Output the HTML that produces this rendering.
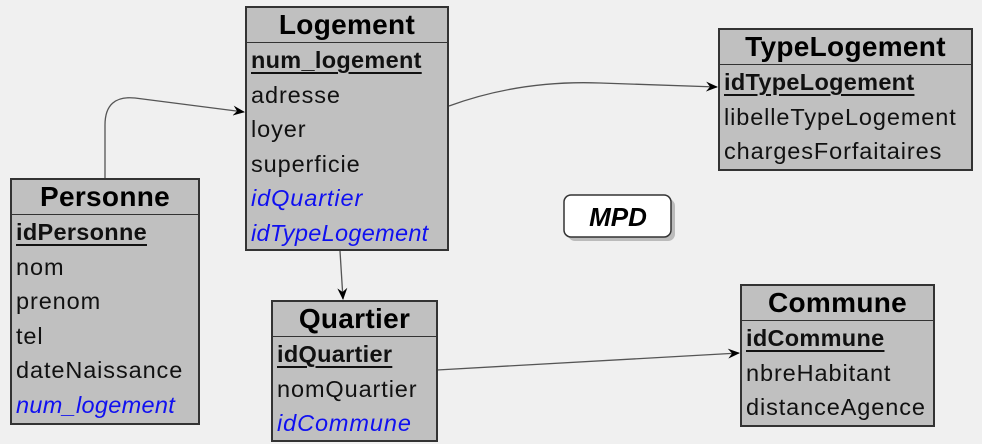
<!DOCTYPE html>
<html><head><style>
body{margin:0;width:982px;height:444px;background:#f0f0f0;position:relative;overflow:hidden;font-family:"Liberation Sans",sans-serif}
.t{position:absolute;background:#c0c0c0;border:2px solid #333;box-sizing:border-box}
.h{height:34px;border-bottom:1.5px solid #333;text-align:center;font-weight:bold;font-size:28px;line-height:34px;color:#000;letter-spacing:0.3px}
.r{font-size:23.5px;height:34.5px;line-height:35px;padding-left:4px;color:#111;white-space:nowrap;letter-spacing:0.9px}
.k{font-weight:bold;text-decoration:underline;text-underline-offset:4px;letter-spacing:0.3px}
.f{color:#1010f0;font-style:italic}
svg{position:absolute;left:0;top:0}
</style></head><body>
<svg width="982" height="444">
<defs><marker id="a" markerWidth="12" markerHeight="10" refX="11" refY="5" orient="auto" markerUnits="userSpaceOnUse"><path d="M0,0 L12,5 L0,10 L4,5z" fill="#000"/></marker></defs>
<g fill="none" stroke="#555" stroke-width="1.3">
<path d="M105,178 V125 Q105,95 135,98 L244,112" marker-end="url(#a)"/>
<path d="M449,106 Q520,80 600,83 L717,87" marker-end="url(#a)"/>
<path d="M340,251 L343,299" marker-end="url(#a)"/>
<path d="M437,370 L739,353" marker-end="url(#a)"/>
</g>
<rect x="568" y="199" width="107" height="42" rx="7" fill="#bbb"/>
<rect x="564" y="195" width="107" height="42" rx="7" fill="#fff" stroke="#333" stroke-width="1.5"/>
<text x="618" y="226" text-anchor="middle" font-family="Liberation Sans" font-size="26" font-weight="bold" font-style="italic">MPD</text>
</svg>
<div class="t" style="left:245px;top:6px;width:204px;height:245px"><div class="h">Logement</div>
<div class="r k">num_logement</div><div class="r">adresse</div><div class="r">loyer</div><div class="r">superficie</div><div class="r f">idQuartier</div><div class="r f" style="letter-spacing:0.3px">idTypeLogement</div></div>
<div class="t" style="left:10px;top:178px;width:190px;height:247px"><div class="h">Personne</div>
<div class="r k">idPersonne</div><div class="r">nom</div><div class="r">prenom</div><div class="r">tel</div><div class="r">dateNaissance</div><div class="r f" style="letter-spacing:0.3px">num_logement</div></div>
<div class="t" style="left:718px;top:28px;width:255px;height:143px"><div class="h">TypeLogement</div>
<div class="r k">idTypeLogement</div><div class="r">libelleTypeLogement</div><div class="r">chargesForfaitaires</div></div>
<div class="t" style="left:271px;top:300px;width:167px;height:142px"><div class="h">Quartier</div>
<div class="r k">idQuartier</div><div class="r">nomQuartier</div><div class="r f">idCommune</div></div>
<div class="t" style="left:740px;top:284px;width:195px;height:143px"><div class="h">Commune</div>
<div class="r k">idCommune</div><div class="r">nbreHabitant</div><div class="r">distanceAgence</div></div>
</body></html>
